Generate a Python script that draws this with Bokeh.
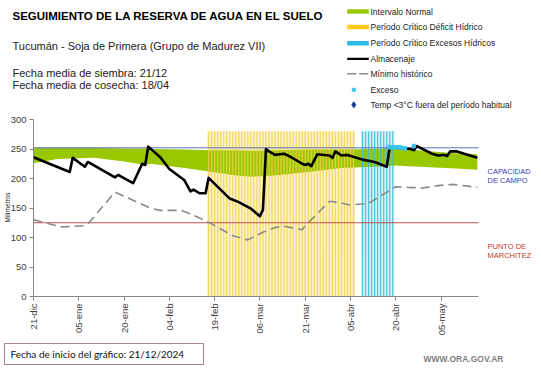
import math
from bokeh.plotting import figure
from bokeh.models import Range1d, FixedTicker, Label
from bokeh.embed import file_html
from bokeh.resources import INLINE

# ---------------- data ----------------
tick_days = [0, 15, 30, 45, 60, 75, 90, 105, 120, 135]
tick_labels = ["21-dic", "05-ene", "20-ene", "04-feb", "19-feb", "06-mar",
               "21-mar", "05-abr", "20-abr", "05-may"]
y_ticks = [0, 50, 100, 150, 200, 250, 300]

# Almacenaje (mm), days since 21-dic
alm_day = [0, 12, 13, 17, 18, 27, 28, 33, 36, 37, 38, 42, 45, 50, 52, 53, 55, 57, 58, 65,
           68, 72, 75, 76, 77, 78, 80, 83, 85, 89, 90, 91, 92, 94, 98, 99, 100, 102, 104, 109,
           113, 117, 118, 125, 126, 127, 132, 134, 136, 137, 138, 140, 147]
alm_val = [236, 211, 235, 220, 228, 202, 206, 192, 225, 223, 254, 236, 216, 197, 178, 181, 175, 175, 201, 166,
           160, 149, 136, 147, 250, 246, 240, 242, 237, 225, 223, 225, 221, 241, 239, 235, 246, 239, 240, 232,
           228, 220, 253, 250, 248, 255, 242, 239, 240, 238, 246, 246, 235]

# Minimo historico
min_day = [0, 9, 17, 18, 27, 39, 42, 49, 52, 58, 66, 71, 76, 80, 83, 89, 90, 98, 99, 105,
           111, 120, 124, 129, 134, 139, 147]
min_val = [130, 118, 120, 123, 177, 149, 146, 146, 140, 126, 103, 96, 109, 117, 119, 113, 120, 161, 161, 155,
           158, 186, 185, 184, 188, 190, 185]

# Intervalo normal (green band)
band_day = [0, 8, 20, 30, 37, 39, 50, 58, 66, 72, 80, 91, 102, 113, 120, 123, 131, 140, 147]
band_low = [226, 233, 235, 229, 223, 225, 218, 212, 206, 203, 205, 211, 218, 220, 222, 221, 219, 217, 215]
band_high = [252, 252, 252, 251, 251, 250, 249, 248, 248, 247, 248, 249, 249, 250, 252, 250, 246, 243, 241]

# Exceso markers
exc_day = [118, 119, 120, 121, 122, 123, 126]
exc_val = [253, 253, 253, 253, 252, 251, 255]

# Critical periods (first and last day)
deficit_period = (58, 106)
excess_period = (109, 119)
crit_top = 280

capacidad_campo = 252
punto_marchitez = 125

X_END = 147.4          # last day shown on the axis
Y_END = 300

# ---------------- geometry (page pixels) ----------------
W, H = 541, 368
AX_L, AX_R = 33, 478    # plot area left/right
AX_T, AX_B = 119, 296   # plot area top/bottom
KX = (AX_R - AX_L) / X_END
KY = (AX_B - AX_T) / Y_END


def PX(px):
    return (px - AX_L) / KX


def PY(py):
    return (AX_B - py) / KY


FONT = "Liberation Sans"

p = figure(width=W, height=H, x_range=Range1d(PX(0), PX(W)), y_range=Range1d(PY(H), PY(0)),
           output_backend="svg", toolbar_location=None,
           min_border_left=0, min_border_right=0, min_border_top=0, min_border_bottom=0)
p.outline_line_color = None
p.grid.visible = False

def_days = list(range(deficit_period[0], deficit_period[1] + 1))
exs_days = list(range(excess_period[0], excess_period[1] + 1))

# pale background of critical bars
p.vbar(x=def_days, width=1.0, bottom=0, top=crit_top, fill_color="#FCF2C4", line_color=None)
p.vbar(x=exs_days, width=1.0, bottom=0, top=crit_top, fill_color="#D2F0F6", line_color=None)

# normal interval
p.varea(x=band_day, y1=band_low, y2=band_high, fill_color="#99C800")

# stripes
p.vbar(x=def_days, width=0.4, bottom=0, top=crit_top, fill_color="#F2D150", fill_alpha=0.85, line_color=None)
p.vbar(x=exs_days, width=0.4, bottom=0, top=crit_top, fill_color="#3DBBD8", fill_alpha=0.85, line_color=None)

# reference levels
p.segment(x0=0, x1=X_END, y0=capacidad_campo, y1=capacidad_campo, line_color="#5872B8", line_width=1)
p.segment(x0=0, x1=X_END, y0=punto_marchitez, y1=punto_marchitez, line_color="#C0504D", line_width=1)

p.line(min_day, min_val, line_color="#8A8A8A", line_width=1.6, line_dash="9 5")
p.line(alm_day, alm_val, line_color="#000000", line_width=2.6, line_join="round")
p.scatter(exc_day, exc_val, marker="square", size=3.5, fill_color="#37C6E6", line_color="#37C6E6")

# axes drawn at fixed data locations (frame covers the whole canvas)
xa, ya = p.xaxis[0], p.yaxis[0]
xa.fixed_location = 0
ya.fixed_location = 0
xa.bounds = (0, X_END)
ya.bounds = (0, Y_END)
for ax in (xa, ya):
    ax.axis_line_color = "#868686"
    ax.major_tick_line_color = "#868686"
    ax.major_tick_out = 4
    ax.major_tick_in = 0
    ax.minor_tick_line_color = None
    ax.major_label_text_font = FONT
    ax.major_label_text_font_size = "9.5px"
    ax.major_label_text_color = "#404040"
    ax.major_label_standoff = 3
ya.ticker = FixedTicker(ticks=y_ticks)
xa.ticker = FixedTicker(ticks=tick_days)
xa.major_label_overrides = {d: l for d, l in zip(tick_days, tick_labels)}
xa.major_label_orientation = math.pi / 2


def lab(x, y, text, size, color, bold=False, font=FONT, align="left", angle=0):
    p.add_layout(Label(x=PX(x), y=PY(y), text=text, text_font=font, text_font_size=size,
                       text_color=color, text_font_style="bold" if bold else "normal",
                       text_align=align, text_baseline="middle", angle=angle))


# axis title and reference-level notes
lab(7, 207, "Milímetros", "6.5px", "#222222", align="center", angle=math.pi / 2)
lab(487, 171, "CAPACIDAD", "7.5px", "#3A3AB4")
lab(487, 179.5, "DE  CAMPO", "7.5px", "#3A3AB4")
lab(487, 246, "PUNTO  DE", "7.5px", "#C0392B")
lab(487, 255, "MARCHITEZ", "7.5px", "#C0392B")

# header
lab(12, 15, "SEGUIMIENTO DE LA RESERVA DE AGUA  EN EL SUELO", "11.5px", "#000000", bold=True)
lab(12, 45, "Tucumán  - Soja de Primera (Grupo de Madurez VII)", "11px", "#222222")
lab(12, 72, "Fecha media de siembra: 21/12", "11px", "#222222")
lab(12, 84, "Fecha media de cosecha: 18/04", "11px", "#222222")

# legend
legend_names = ["Intervalo Normal", "Período Crítico Déficit Hídrico", "Período Crítico Excesos Hídricos",
                "Almacenaje", "Mínimo histórico", "Exceso", "Temp <3°C fuera del período habitual"]
leg_y = [11, 26.5, 42.7, 58.3, 73.3, 89.3, 104.3]
sx0, sx1 = 346.7, 368.3
p.rect(x=[PX((sx0 + sx1) / 2)] * 3, y=[PY(v) for v in leg_y[:3]], width=(sx1 - sx0) / KX, height=4.5 / KY,
       fill_color=["#99C800", "#FFC81A", "#2DB9E6"], line_color=None)
p.line([PX(sx0), PX(sx1)], [PY(leg_y[3])] * 2, line_color="black", line_width=2.2)
p.line([PX(sx0), PX(sx1)], [PY(leg_y[4])] * 2, line_color="#8A8A8A", line_width=1.6, line_dash="9 3")
p.scatter([PX(353.3)], [PY(leg_y[5])], marker="square", size=3, fill_color="#37C6E6", line_color="#37C6E6")
p.scatter([PX(353.3)], [PY(leg_y[6])], marker="diamond", size=6, fill_color="#1F3A9A", line_color="#1F3A9A")
for name, y in zip(legend_names, leg_y):
    lab(370, y, name, "8.5px", "#222222")

# footer
p.rect(x=[PX(103.5)], y=[PY(353.5)], width=199 / KX, height=21 / KY,
       fill_color="white", line_color="#9C8585", line_width=1)
lab(10, 353.5, "Fecha de inicio del gráfico:  21/12/2024", "10px", "#111111", font="Lato")
lab(423, 358, "WWW.ORA.GOV.AR", "8.5px", "#7F7F7F", bold=True)

open("out.html", "w").write(file_html(p, INLINE))
